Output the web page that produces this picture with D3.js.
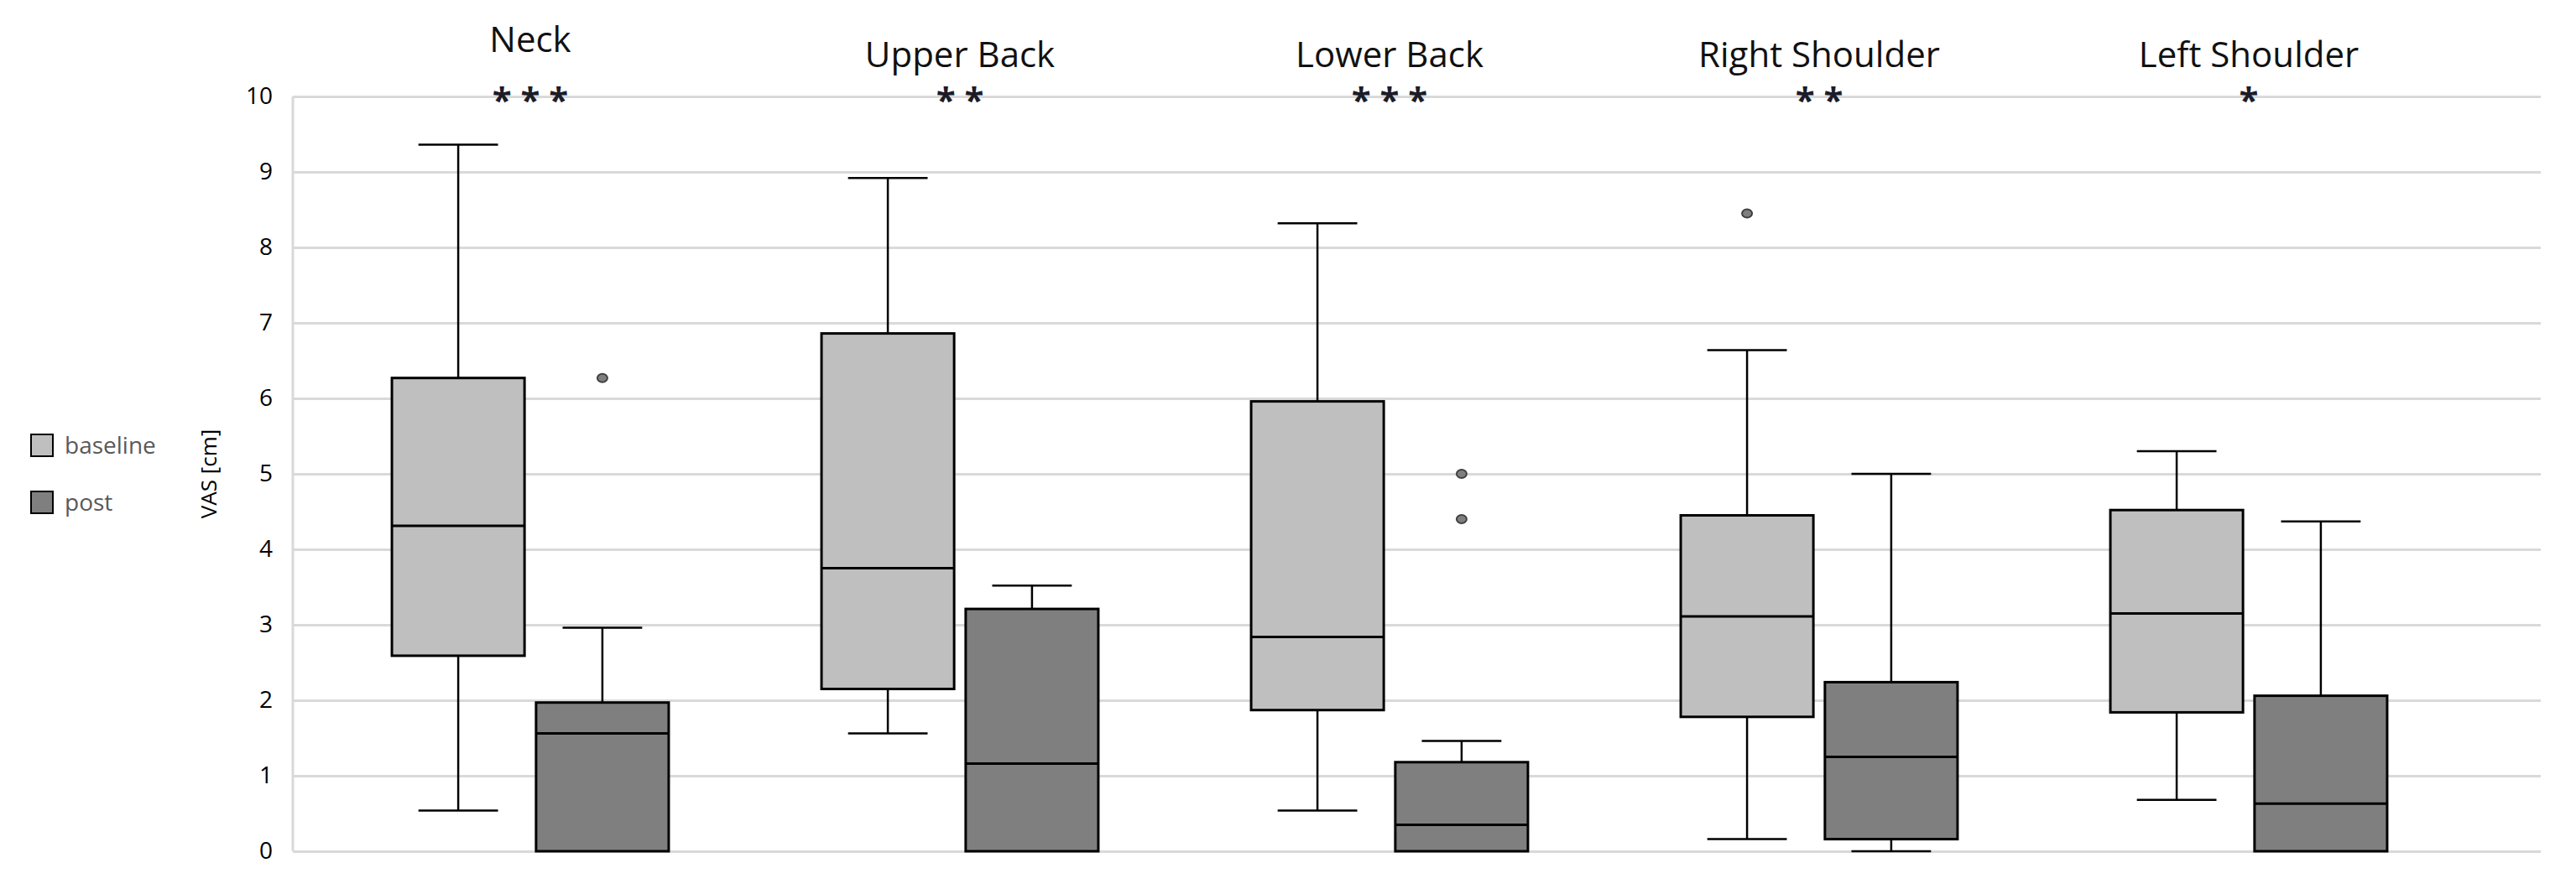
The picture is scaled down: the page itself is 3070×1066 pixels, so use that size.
<!DOCTYPE html>
<html>
<head>
<meta charset="utf-8">
<script src="https://cdn.jsdelivr.net/npm/d3@7"></script>
<style>
  body { margin: 0; background: #fff; }
  text { font-family: "Open Sans", "Noto Sans", sans-serif; }
</style>
</head>
<body>
<script>
var categories = ['Neck', 'Upper Back', 'Lower Back', 'Right Shoulder', 'Left Shoulder'];
var stars = ['* * *', '* *', '* * *', '* *', '*'];
var series = ['baseline', 'post'];
var yTicks = [0, 1, 2, 3, 4, 5, 6, 7, 8, 9, 10];

var baselineLow = [0.54, 1.56, 0.54, 0.16, 0.68];
var baselineQ1 = [2.59, 2.15, 1.87, 1.78, 1.84];
var baselineMedian = [4.31, 3.75, 2.84, 3.11, 3.15];
var baselineQ3 = [6.27, 6.86, 5.96, 4.45, 4.52];
var baselineHigh = [9.36, 8.92, 8.32, 6.64, 5.30];
var baselineOutliers = [[], [], [], [8.45], []];

var postLow = [0, 0, 0, 0, 0];
var postQ1 = [0, 0, 0, 0.16, 0];
var postMedian = [1.56, 1.16, 0.35, 1.25, 0.63];
var postQ3 = [1.97, 3.21, 1.18, 2.24, 2.06];
var postHigh = [2.96, 3.52, 1.46, 5.00, 4.37];
var postOutliers = [[6.27], [], [5.00, 4.40], [], []];

(function () {
  var width = 3070,
    height = 1066,
    svg, x, xs, y, color, boxes, data;

  color = d3.scaleOrdinal()
    .domain(series)
    .range(['#bfbfbf', '#7f7f7f']);

  x = d3.scaleBand()
    .domain(categories)
    .range([376, 2936])
    .padding(0);

  xs = d3.scaleBand()
    .domain(series)
    .range([0, x.bandwidth()])
    .paddingInner(0.08)
    .paddingOuter(0.53);

  y = d3.scaleLinear()
    .domain([0, 10])
    .range([1015, 115]);

  data = [];
  categories.forEach(function (c, i) {
    data.push({ cat: c, s: 'baseline', low: baselineLow[i], q1: baselineQ1[i], med: baselineMedian[i], q3: baselineQ3[i], high: baselineHigh[i], out: baselineOutliers[i] });
    data.push({ cat: c, s: 'post', low: postLow[i], q1: postQ1[i], med: postMedian[i], q3: postQ3[i], high: postHigh[i], out: postOutliers[i] });
  });

  svg = d3.select('body')
    .append('svg')
    .attr('width', width)
    .attr('height', height);

  // gridlines + left axis line
  svg.append('g')
    .attr('transform', 'translate(349,0)')
    .call(d3.axisLeft(y).tickValues(yTicks).tickSize(-(3028 - 349)).tickPadding(24))
    .call(function (g) {
      g.select('.domain').remove();
      g.selectAll('.tick line').attr('stroke', '#d9d9d9').attr('stroke-width', 3);
      g.selectAll('.tick text').attr('font-size', 28).attr('fill', '#000')
        .style('font-family', '"Open Sans", sans-serif');
    });

  svg.append('line')
    .attr('x1', 349).attr('x2', 349)
    .attr('y1', y(10)).attr('y2', y(0))
    .attr('stroke', '#d9d9d9')
    .attr('stroke-width', 3);

  // titles and significance stars
  svg.selectAll('.title')
    .data(categories)
    .enter()
    .append('text')
    .attr('class', 'title')
    .attr('x', function (d) { return x(d) + x.bandwidth() / 2; })
    .attr('y', function (d, i) { return i === 0 ? 62 : 80; })
    .attr('text-anchor', 'middle')
    .attr('font-size', 42)
    .attr('fill', '#111')
    .text(function (d) { return d; });

  svg.selectAll('.stars')
    .data(categories)
    .enter()
    .append('text')
    .attr('class', 'stars')
    .attr('x', function (d) { return x(d) + x.bandwidth() / 2; })
    .attr('y', 134)
    .attr('text-anchor', 'middle')
    .attr('font-size', 42)
    .attr('font-weight', 'bold')
    .attr('fill', '#1c1c28')
    .text(function (d, i) { return stars[i]; });

  boxes = svg.selectAll('.box')
    .data(data)
    .enter()
    .append('g')
    .attr('class', 'box')
    .attr('transform', function (d) { return 'translate(' + (x(d.cat) + xs(d.s)) + ',0)'; });

  var bw = xs.bandwidth(),
    cap = bw * 0.3;

  // upper whisker
  boxes.filter(function (d) { return d.high > d.q3; })
    .append('line')
    .attr('x1', bw / 2).attr('x2', bw / 2)
    .attr('y1', function (d) { return y(d.high); })
    .attr('y2', function (d) { return y(d.q3); })
    .attr('stroke', '#000').attr('stroke-width', 2.5);

  boxes.filter(function (d) { return d.high > d.q3; })
    .append('line')
    .attr('x1', bw / 2 - cap).attr('x2', bw / 2 + cap)
    .attr('y1', function (d) { return y(d.high); })
    .attr('y2', function (d) { return y(d.high); })
    .attr('stroke', '#000').attr('stroke-width', 2.5);

  // lower whisker
  boxes.filter(function (d) { return d.low < d.q1; })
    .append('line')
    .attr('x1', bw / 2).attr('x2', bw / 2)
    .attr('y1', function (d) { return y(d.q1); })
    .attr('y2', function (d) { return y(d.low); })
    .attr('stroke', '#000').attr('stroke-width', 2.5);

  boxes.filter(function (d) { return d.low < d.q1; })
    .append('line')
    .attr('x1', bw / 2 - cap).attr('x2', bw / 2 + cap)
    .attr('y1', function (d) { return y(d.low); })
    .attr('y2', function (d) { return y(d.low); })
    .attr('stroke', '#000').attr('stroke-width', 2.5);

  boxes.append('rect')
    .attr('x', 0)
    .attr('width', bw)
    .attr('y', function (d) { return y(d.q3); })
    .attr('height', function (d) { return y(d.q1) - y(d.q3); })
    .attr('fill', function (d) { return color(d.s); })
    .attr('stroke', '#000')
    .attr('stroke-width', 3);

  boxes.append('line')
    .attr('x1', 0).attr('x2', bw)
    .attr('y1', function (d) { return y(d.med); })
    .attr('y2', function (d) { return y(d.med); })
    .attr('stroke', '#000').attr('stroke-width', 3);

  boxes.selectAll('.outlier')
    .data(function (d) { return d.out; })
    .enter()
    .append('ellipse')
    .attr('class', 'outlier')
    .attr('cx', bw / 2)
    .attr('cy', function (d) { return y(d); })
    .attr('rx', 6)
    .attr('ry', 5)
    .attr('fill', '#7f7f7f')
    .attr('stroke', '#404040')
    .attr('stroke-width', 2);

  // legend
  var legend = svg.selectAll('.legend')
    .data(series)
    .enter()
    .append('g')
    .attr('class', 'legend')
    .attr('transform', function (d, i) { return 'translate(37,' + (518 + i * 68) + ')'; });

  legend.append('rect')
    .attr('width', 26).attr('height', 26)
    .attr('fill', function (d) { return color(d); })
    .attr('stroke', '#000')
    .attr('stroke-width', 2);

  legend.append('text')
    .attr('x', 40)
    .attr('y', 23)
    .attr('font-size', 28)
    .attr('fill', '#595959')
    .text(function (d) { return d; });

  svg.append('text')
    .attr('transform', 'translate(258,565) rotate(-90)')
    .attr('text-anchor', 'middle')
    .attr('font-size', 26)
    .attr('fill', '#000')
    .text('VAS [cm]');
}());
</script>
</body>
</html>
